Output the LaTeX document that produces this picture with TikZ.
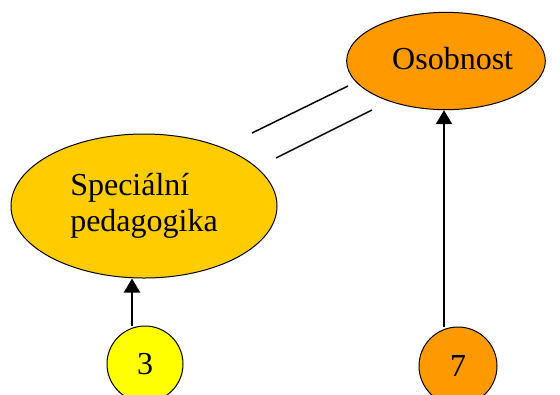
\documentclass[tikz,border=0pt]{standalone}
\usepackage{fontspec}
\setmainfont{Liberation Serif}
\usetikzlibrary{shapes.geometric,arrows.meta}
\begin{document}
\begin{tikzpicture}[x=0.75pt,y=-0.75pt]
    \definecolor{oranzova}{RGB}{255,153,0};
    \definecolor{zlata}{RGB}{255,204,0};
    \definecolor{zluta}{RGB}{255,255,0};
\useasboundingbox (0,0) rectangle (560,394);
\tikzset{
  elip/.style={draw,shape=ellipse,line width=0.75pt,inner sep=0pt,font=\fontsize{24}{27}\selectfont},
  kruh/.style={draw,shape=circle,line width=0.75pt,inner sep=0pt,minimum size=57pt,font=\fontsize{24}{27}\selectfont},
  sipka/.style={line width=1.5pt,-{Triangle[length=10.5pt,width=12pt]}}
}
% elipsy
\node [elip,fill=oranzova,minimum width=149pt,minimum height=73pt] (osob) at (446,61) {\raisebox{4pt}{\hspace{10pt}Osobnost}};
\node [elip,fill=zlata,minimum width=199.5pt,minimum height=108pt,align=left] (spec) at (144,206) {Speciální\\pedagogika\hspace{9pt}};
% kruhy
\node [kruh,fill=zluta] (c3) at (145,364) {3};
\node [kruh,fill=oranzova,minimum size=58.5pt] (c7) at (458,366) {7};
\draw [sipka] ([xshift=-9.75pt]c3.north) -- ([xshift=-9.75pt]c3.north |- spec.south);
\draw [sipka] ([xshift=-10.5pt]c7.north) -- ([xshift=-10.5pt]c7.north |- osob.south);
% dvojita cara
\coordinate (a1) at (252,133);
\coordinate (b1) at (348,86);
\coordinate (a2) at (276,158);
\coordinate (b2) at (372,110);
\draw [line width=1.1pt] (a1)--(b1);
\draw [line width=1.1pt] (a2)--(b2);
\end{tikzpicture}
\end{document}
